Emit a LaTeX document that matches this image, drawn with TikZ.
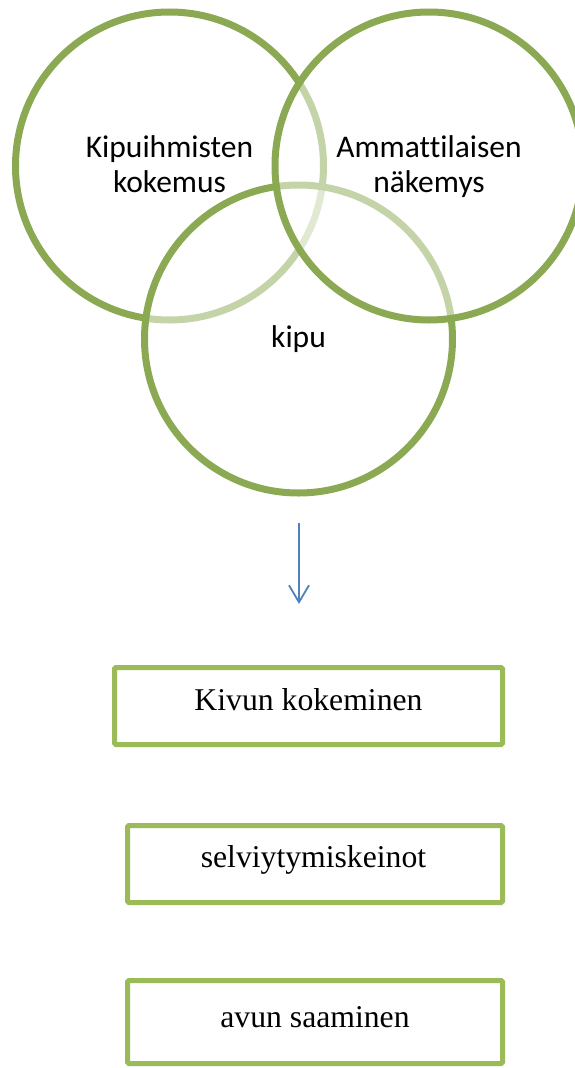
\documentclass[tikz,border=0pt]{standalone}
\usepackage{fontspec}
\setmainfont{Liberation Serif}
\newfontfamily\calib[Ligatures=NoCommon]{Carlito}
\usetikzlibrary{arrows.meta}
\definecolor{ringgreen}{RGB}{138,169,82}
\definecolor{boxgreen}{RGB}{155,187,89}
\definecolor{arrowblue}{RGB}{79,129,189}
\begin{document}
\begin{tikzpicture}[x=1pt,y=-1pt,
  ring/.style={circle, inner sep=0pt, minimum size=308pt, line width=7pt,
    draw=ringgreen, fill=white, fill opacity=0.5, draw opacity=1},
  ringlabel/.style={font=\calib\fontsize{31.5}{35.5}\selectfont, align=center, inner sep=0pt, anchor=base},
  stepbox/.style={draw=boxgreen, line width=5pt, rounded corners=1.5pt, inner sep=0pt},
  boxlabel/.style={font=\fontsize{31.7}{38}\selectfont, inner sep=0pt, anchor=base},
  flow/.style={draw=arrowblue, line width=1.8pt, -{Straight Barb[length=17pt,width=20pt]}}]
\useasboundingbox (0,0) rectangle (574,1068);
% Venn rings (drawn in order: left, bottom, right)
\node[ring] (left) at (169.5,166) {};
\node[ring] (bottom) at (298.5,339) {};
\node[ring] (right) at (429,166) {};
% labels (base anchor = baseline of the last line)
\node[ringlabel] (tleft) at (169.5,192.5) {Kipuihmisten\\kokemus};
\node[ringlabel] (tright) at (429,192.5) {Ammattilaisen\\näkemys};
\node[ringlabel] (tbottom) at (298.5,347) {kipu};
% arrow
\coordinate (a1) at (299,523);
\coordinate (a2) at (299,604);
\draw[flow] (a1) -- (a2);
% boxes
\node[stepbox, minimum width=388pt, minimum height=77pt] (b1) at (308.5,706) {};
\node[stepbox, minimum width=375pt, minimum height=77pt] (b2) at (315,864) {};
\node[stepbox, minimum width=375pt, minimum height=83pt] (b3) at (315,1022) {};
\node[boxlabel] (l1) at (308.5,710) {Kivun kokeminen};
\node[boxlabel] (l2) at (313.5,867) {selviytymiskeinot};
\node[boxlabel] (l3) at (315,1027) {avun saaminen};
\end{tikzpicture}
\end{document}
